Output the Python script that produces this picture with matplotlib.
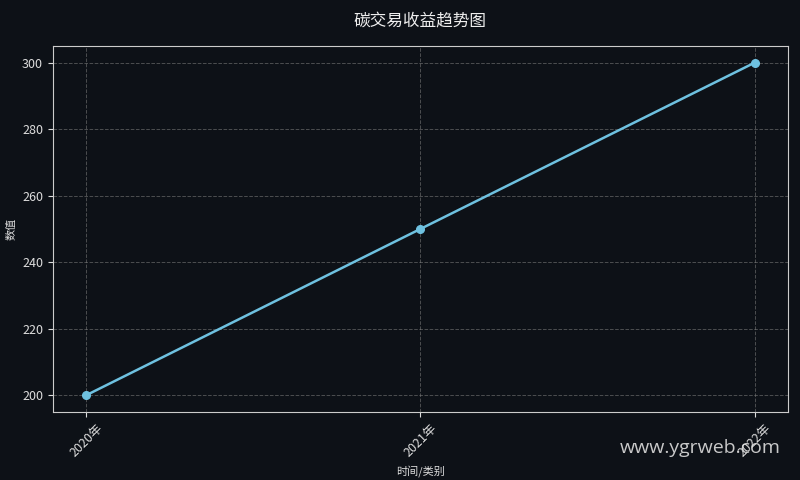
import matplotlib
matplotlib.use('Agg')
import matplotlib.pyplot as plt

plt.rcParams['font.family'] = ['Noto Sans CJK SC', 'DejaVu Sans']

years = ['2020年', '2021年', '2022年']
values = [200, 250, 300]

bg = '#0d1117'
fig = plt.figure(figsize=(8, 4.8), dpi=100, facecolor=bg)
ax = fig.add_axes([0.066, 0.142, 0.919, 0.762], facecolor=bg)

ax.plot(years, values, color='#6ec1e0', linewidth=1.8, marker='o', markersize=5.5)

ax.grid(True, color='#808080', linestyle='--', linewidth=0.7, alpha=0.55)
for s in ax.spines.values():
    s.set_color('#cccccc')
ax.tick_params(colors='#dddddd', labelsize=9)
plt.setp(ax.get_xticklabels(), rotation=45)

ax.set_title('碳交易收益趋势图', color='#eeeeee', fontsize=12, pad=14)
ax.set_xlabel('时间/类别', color='#dddddd', fontsize=8)
ax.set_ylabel('数值', color='#dddddd', fontsize=8)

fig.text(0.976, 0.066, 'www.ygrweb.com', color='#dddddd', fontsize=14,
         ha='right', va='center', alpha=0.9, family=['Open Sans', 'DejaVu Sans'])

fig.savefig('out.png', dpi=100, facecolor=bg)
